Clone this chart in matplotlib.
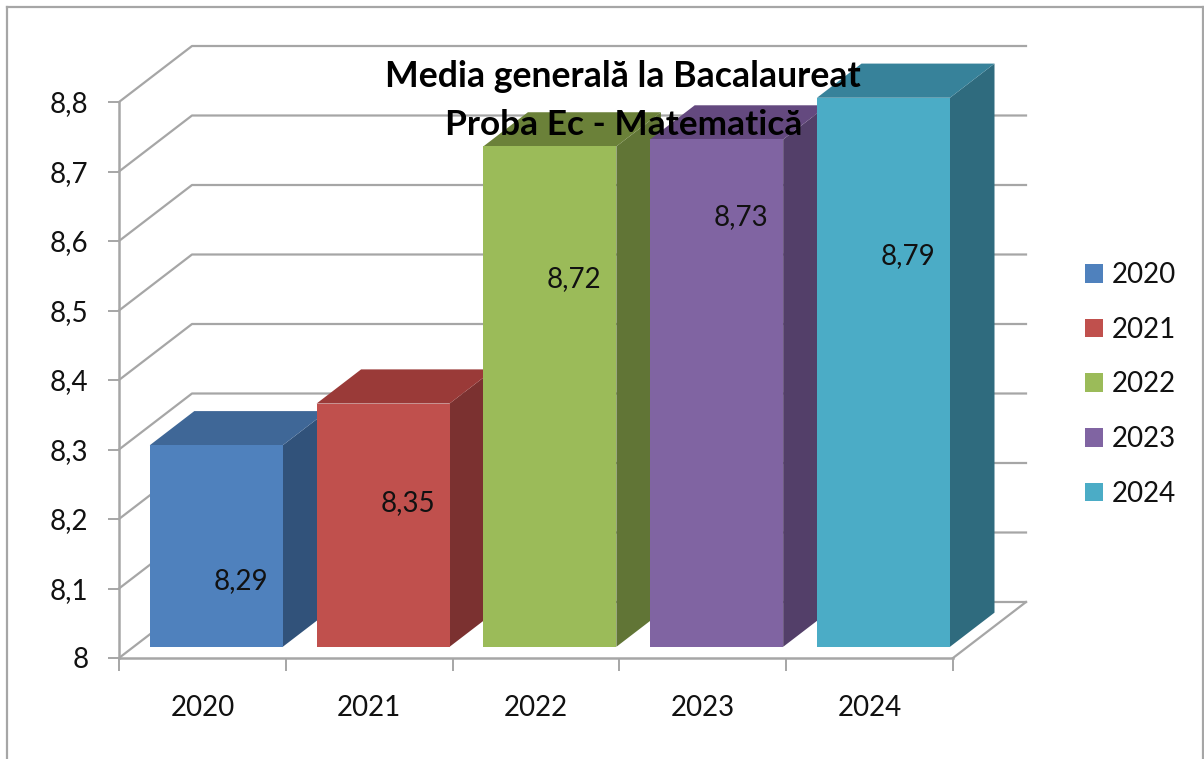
import matplotlib
matplotlib.use('Agg')
import matplotlib.pyplot as plt
from matplotlib.patches import Patch, Polygon

plt.rcParams['font.family'] = ['Lato', 'DejaVu Sans']

years = ['2020', '2021', '2022', '2023', '2024']
medii = [8.29, 8.35, 8.72, 8.73, 8.79]
etichete = ['8,29', '8,35', '8,72', '8,73', '8,79']
etichete_y = [8.111, 8.223, 8.545, 8.635, 8.578]
y_ticks = [8, 8.1, 8.2, 8.3, 8.4, 8.5, 8.6, 8.7, 8.8]
y_labels = ['8', '8,1', '8,2', '8,3', '8,4', '8,5', '8,6', '8,7', '8,8']
fata = ['#4F81BD', '#C0504D', '#9BBB59', '#8064A2', '#4BACC6']
sus = ['#3F6797', '#9A3A38', '#6B8139', '#64497F', '#37829A']
lateral = ['#31527A', '#7B3130', '#617536', '#533F69', '#2F6B7E']
gri = '#A6A6A6'

W, H = 1204, 759
fig = plt.figure(figsize=(W / 100, H / 100), dpi=100)
ax = fig.add_axes([119 / W, (H - 658) / H, 834 / W, 556 / H])
ax.set_xlim(0, 5)
ax.set_ylim(8, 8.8)

# adancimea podelei, in unitatile axelor
dx = 5 * 73 / 834
dy = 0.8 * 56 / 556

# peretele din spate
for v in y_ticks:
    ax.plot([0, dx, 5 + dx], [v, v + dy, v + dy], color=gri, lw=1.6, clip_on=False, zorder=1)
ax.plot([5, 5 + dx], [8, 8 + dy], color=gri, lw=1.6, clip_on=False, zorder=1)

# coloanele: fata la 0.2 din adancime, spatele la 0.81
latime = 133 / 834 * 5
x0 = [i + 0.19 * dx + 0.5 for i in range(5)]
d1, d2 = 0.20, 0.81
ax.bar(x0, [m - 8 for m in medii], width=latime, bottom=8 + d1 * dy, color=fata, clip_on=False, zorder=3)
for i, m in enumerate(medii):
    st = x0[i] - latime / 2
    dr = x0[i] + latime / 2
    adx = (d2 - d1) * dx
    ady = (d2 - d1) * dy
    y_j = 8 + d1 * dy
    y_s = m + d1 * dy
    ax.add_patch(Polygon([(dr, y_j), (dr + adx, y_j + ady), (dr + adx, y_s + ady), (dr, y_s)],
                         color=lateral[i], clip_on=False, zorder=2 + i * 0.1, lw=0))
    ax.add_patch(Polygon([(st, y_s), (st + adx, y_s + ady), (dr + adx, y_s + ady), (dr, y_s)],
                         color=sus[i], clip_on=False, zorder=2 + i * 0.1, lw=0))
    ax.text(i + 0.5 + 0.23, etichete_y[i], etichete[i], ha='center', va='center',
            fontsize=20, color='#111111', zorder=5)

for s in ['top', 'right']:
    ax.spines[s].set_visible(False)
for s in ['left', 'bottom']:
    ax.spines[s].set_color(gri)
    ax.spines[s].set_linewidth(1.8)
    ax.spines[s].set_zorder(1.5)

ax.set_yticks(y_ticks)
ax.set_yticklabels(y_labels, fontsize=20, color='#111111')
ax.set_xticks(range(6))
ax.set_xticklabels([])
ax.set_xticks([i + 0.5 for i in range(5)], minor=True)
ax.set_xticklabels(years, minor=True, fontsize=20, color='#111111')
ax.tick_params(axis='x', which='major', length=9, width=1.4, color=gri)
ax.tick_params(axis='x', which='minor', length=0, pad=27)
ax.tick_params(axis='y', length=8, width=1.4, color=gri, pad=14)

ax.text(3.02, 8.836, 'Media generală la Bacalaureat', ha='center', va='center',
        fontsize=25.7, fontweight='bold', color='black', zorder=6)
ax.text(3.025, 8.767, 'Proba Ec - Matematică', ha='center', va='center',
        fontsize=25.4, fontweight='bold', color='black', zorder=6)

handles = [Patch(facecolor=c, label=y) for c, y in zip(fata, years)]
ax.legend(handles=handles, loc='center left', bbox_to_anchor=(1.158, 0.492), frameon=False,
          fontsize=20, handlelength=0.65, handleheight=0.65, handletextpad=0.33,
          labelspacing=1.03, borderaxespad=0, borderpad=0, labelcolor='#111111')

# chenarul
fig.add_artist(plt.Line2D([7 / W, 7 / W], [0, 1 - 7 / H], color='#A6A6A6', lw=1.6))
fig.add_artist(plt.Line2D([7 / W, 1203 / W], [1 - 7 / H, 1 - 7 / H], color='#A6A6A6', lw=1.6))
fig.add_artist(plt.Line2D([1203 / W, 1203 / W], [0, 1 - 7 / H], color='#A6A6A6', lw=1.6))

fig.savefig('out.png', dpi=100)
